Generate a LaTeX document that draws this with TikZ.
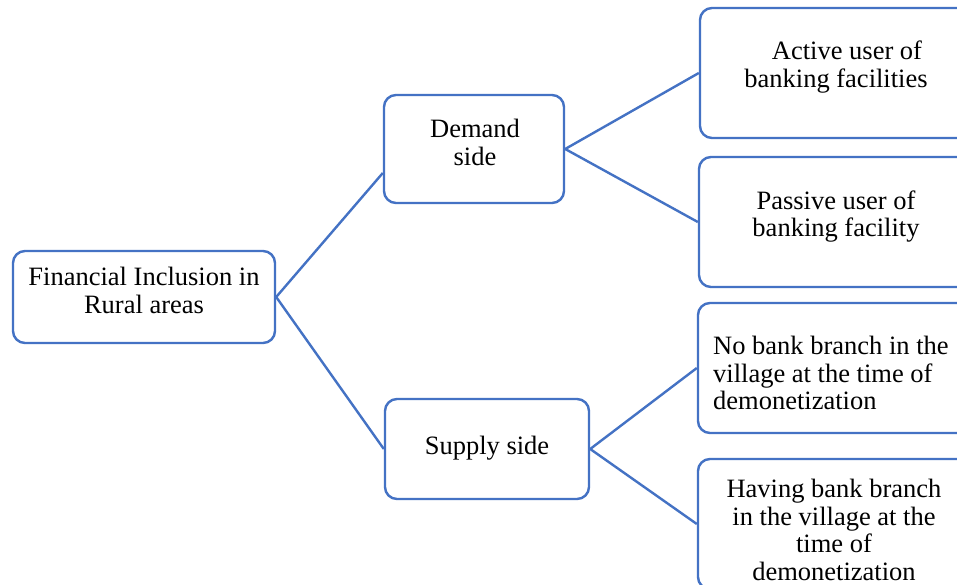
\documentclass[tikz,border=0pt]{standalone}
\usepackage{fontspec}
\setmainfont{Liberation Serif}
\definecolor{bl}{RGB}{68,114,196}
\begin{document}
\begin{tikzpicture}[x=1pt,y=-1pt,
  box/.style={draw=bl, line width=2.4pt, rounded corners=12pt, inner sep=0pt},
  txt/.style={font=\fontsize{26.5}{27.5}\selectfont, align=center, inner sep=0pt},
  link/.style={draw=bl, line width=2.4pt}]
\useasboundingbox (0,0) rectangle (957,585);
\clip (0,0) rectangle (957,585);
\fill[white] (0,0) rectangle (957,585);
% boxes
\node[box, minimum width=262, minimum height=92] (root) at (144,297) {};
\node[box, minimum width=180, minimum height=108] (demand) at (474,149) {};
\node[box, minimum width=204, minimum height=100] (supply) at (487,449) {};
\node[box, minimum width=310, minimum height=130] (active) at (855,73) {};
\node[box, minimum width=311, minimum height=130] (passive) at (854.5,222) {};
\node[box, minimum width=312, minimum height=130] (nobank) at (854,368) {};
\node[box, minimum width=312, minimum height=130] (having) at (854,524) {};
% texts
\node[txt] (roott) at (144,290.5) {Financial Inclusion in\\Rural areas};
\node[txt] (demandt) at (475,142.5) {Demand\\side};
\node[txt] (supplyt) at (487,448) {Supply side};
\node[txt] (activet) at (836,67) {\hspace{22pt}Active user of\\banking facilities};
\node[txt] (passivet) at (836,216.5) {Passive user of\\banking facility};
\node[txt, align=left, anchor=west] (nobankt) at (713,373) {No bank branch in the\\village at the time of\\demonetization};
\node[txt] (havingt) at (834,530) {Having bank branch\\in the village at the\\time of\\demonetization};
% connectors
\coordinate (dIn) at (demand.west |- 0,173);
\draw[link] (root.east) -- (dIn);
\draw[link] (root.east) -- (supply.west);
\draw[link] (demand.east) -- (active.west);
\draw[link] (demand.east) -- (passive.west);
\draw[link] (supply.east) -- (nobank.west);
\draw[link] (supply.east) -- (having.west);
\end{tikzpicture}
\end{document}
